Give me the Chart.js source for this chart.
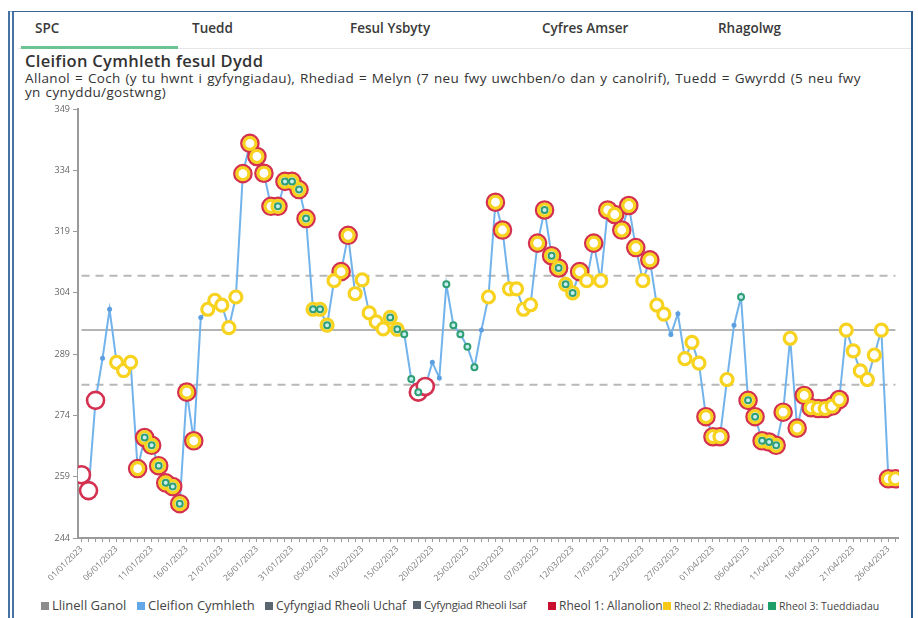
<!DOCTYPE html>
<html lang="cy">
<head>
<meta charset="utf-8">
<title>Cleifion Cymhleth fesul Dydd</title>
<script src="https://cdn.jsdelivr.net/npm/chart.js@4.4.1/dist/chart.umd.min.js"></script>
<style>
  html, body { margin: 0; padding: 0; background: #fff; }
  body { width: 918px; height: 618px; position: relative; overflow: hidden; font-family: "Open Sans", "Noto Sans", sans-serif; color: #333; }
  #ffram { position: absolute; left: 8px; top: 11px; width: 897px; height: 660px;
    border-top: 1.5px solid #3a6694; border-right: 2px solid #2f5b8c; border-left: 6px double #4673a3; }
  .tab { position: absolute; top: 19px; font-size: 13.5px; font-weight: 600; color: #3a3a3a; }
  #llinell-tab { position: absolute; left: 18px; top: 48px; width: 893px; height: 1px; background: #e6e6e6; }
  #tab-gwyrdd { position: absolute; left: 21px; top: 46px; width: 157px; height: 3px; background: #6cc394; }
  #teitl { position: absolute; left: 25px; top: 49px; font-size: 16.5px; letter-spacing: 0.3px; font-weight: 600; color: #333; }
  #isdeitl { position: absolute; left: 25px; top: 71px; font-size: 13.5px; letter-spacing: 0.35px; word-spacing: 1px; line-height: 14px; color: #333; white-space: nowrap; }
  #lapio { position: absolute; left: 20px; top: 102px; width: 890px; height: 493px; overflow: hidden; }
  #cynhwysydd { position: absolute; left: 0; top: -4px; width: 890px; height: 497px; }
  .allwedd { position: absolute; top: 596px; white-space: nowrap; color: #444; }
  .allwedd i { display: inline-block; width: 8px; height: 8px; margin-right: 3px; vertical-align: 0px; }
</style>
</head>
<body>
<div id="ffram"></div>
<div class="tab" style="left:35px">SPC</div>
<div class="tab" style="left:192px">Tuedd</div>
<div class="tab" style="left:350px">Fesul Ysbyty</div>
<div class="tab" style="left:542px">Cyfres Amser</div>
<div class="tab" style="left:718px">Rhagolwg</div>
<div id="llinell-tab"></div>
<div id="tab-gwyrdd"></div>
<div id="teitl">Cleifion Cymhleth fesul Dydd</div>
<div id="isdeitl">Allanol = Coch (y tu hwnt i gyfyngiadau), Rhediad = Melyn (7 neu fwy uwchben/o dan y canolrif), Tuedd = Gwyrdd (5 neu fwy<br>yn cynyddu/gostwng)</div>

<div id="lapio"><div id="cynhwysydd"><canvas id="spcChart"></canvas></div></div>

<div class="allwedd" style="left:41px;font-size:13px"><i style="background:#8c8c8c"></i>Llinell Ganol</div>
<div class="allwedd" style="left:137px;font-size:13px"><i style="background:#62a8e8"></i>Cleifion Cymhleth</div>
<div class="allwedd" style="left:265px;font-size:12.2px;top:597px"><i style="background:#5b6670"></i>Cyfyngiad Rheoli Uchaf</div>
<div class="allwedd" style="left:413px;font-size:11.3px;letter-spacing:-0.3px;top:597px"><i style="background:#5b6670"></i>Cyfyngiad Rheoli Isaf</div>
<div class="allwedd" style="left:548px;font-size:12px;top:597px"><i style="background:#c8102e"></i>Rheol 1: Allanolion</div>
<div class="allwedd" style="left:663px;font-size:10px;top:599px"><i style="background:#f6c915"></i>Rheol 2: Rhediadau</div>
<div class="allwedd" style="left:768px;font-size:10.5px;top:599px"><i style="background:#1f9e6a"></i>Rheol 3: Tueddiadau</div>

<script>
'use strict'

// data - cleifion cymhleth bob dydd, 01/01/2023 i 27/04/2023
var cleifion = [
  259.5, 255.6, 277.7, 288, 300, 287, 285, 287, 261, 268.6,
  266.7, 261.7, 257.5, 256.6, 252.4, 279.7, 267.8, 298, 300, 302.2,
  301, 295.5, 303, 333.2, 340.6, 337.4, 333.3, 325.2, 325.2, 331.3,
  331.3, 329.3, 322.2, 300, 300, 296.1, 307, 309.2, 318.1, 303.8,
  307.2, 299.1, 296.9, 295.2, 298, 295.1, 293.9, 282.9, 279.7, 281.1,
  287, 283.2, 306.1, 296.1, 293.9, 290.8, 285.8, 294.9, 303, 326.2,
  319.4, 305, 305, 300, 301.1, 316.2, 324.3, 313.1, 310.1, 306.1,
  304, 309.2, 307, 316.2, 307, 324.3, 323.2, 319.4, 325.4, 315.1,
  307, 312.1, 301, 298.8, 293.8, 298.9, 287.9, 291.9, 286.8, 273.7,
  268.8, 268.8, 282.8, 296.1, 303, 277.7, 273.7, 267.8, 267.5, 266.7,
  274.8, 292.9, 270.9, 278.9, 275.9, 275.7, 275.7, 276.3, 277.9, 294.9,
  289.8, 284.9, 282.8, 288.8, 294.9, 258.5, 258.5
];

var canolrif = 294.9;
var terfynUchaf = 308.2;
var terfynIsaf = 281.5;

// pa ddyddiau sy'n torri pob rheol (mynegai'r dydd)
var rheol1 = [0, 1, 2, 8, 9, 10, 11, 12, 13, 14, 15, 16, 23, 24, 25, 26, 27, 28, 29, 30, 31, 32,
  37, 38, 48, 49, 59, 60, 65, 66, 67, 68, 71, 73, 75, 76, 77, 78, 79, 81, 89, 90, 91,
  95, 96, 97, 98, 99, 100, 102, 103, 104, 105, 106, 107, 108, 115, 116];
var rheol2 = [5, 6, 7, 8, 9, 10, 11, 12, 13, 14, 15, 16,
  18, 19, 20, 21, 22, 23, 24, 25, 26, 27, 28, 29, 30, 31, 32, 33, 34, 35, 36, 37, 38, 39, 40, 41, 42, 43, 44, 45,
  58, 59, 60, 61, 62, 63, 64, 65, 66, 67, 68, 69, 70, 71, 72, 73, 74, 75, 76, 77, 78, 79, 80, 81, 82, 83,
  86, 87, 88, 89, 90, 91, 92,
  95, 96, 97, 98, 99, 100, 101, 102, 103, 104, 105, 106, 107, 108, 109, 110, 111, 112, 113, 114, 115, 116];
var rheol3 = [9, 10, 11, 12, 13, 14, 28, 29, 30, 31, 32, 33, 34, 35, 44, 45, 46, 47, 48,
  52, 53, 54, 55, 56, 66, 67, 68, 69, 70, 94, 95, 96, 97, 98, 99];

var yAxis = { min: 244, max: 349, step: 15 };

// dyddiadau dd/mm/yyyy
var dyddiadau = [];
for (var d = 0; d < cleifion.length; d++) {
  var dt = new Date(Date.UTC(2023, 0, 1 + d));
  var dd = String(dt.getUTCDate()).padStart(2, '0');
  var mm = String(dt.getUTCMonth() + 1).padStart(2, '0');
  dyddiadau.push(dd + '/' + mm + '/' + dt.getUTCFullYear());
}

function llinellSyth(gwerth) {
  return cleifion.map(function() { return gwerth; });
}

function pwyntiauRheol(rhestr) {
  return cleifion.map(function(v, i) { return rhestr.indexOf(i) > -1 ? v : null; });
}

var ctx = document.getElementById('spcChart').getContext('2d');
var chart = new Chart(ctx, {
  type: 'line',
  data: {
    labels: dyddiadau,
    datasets: [{
      label: 'Llinell Ganol',
      data: llinellSyth(canolrif),
      borderColor: '#b4b4b4',
      borderWidth: 2,
      pointRadius: 0,
      order: 10
    },
    {
      label: 'Cyfyngiad Rheoli Uchaf',
      data: llinellSyth(terfynUchaf),
      borderColor: '#b8b8b8',
      borderWidth: 2,
      borderDash: [8, 6],
      pointRadius: 0,
      order: 10
    },
    {
      label: 'Cyfyngiad Rheoli Isaf',
      data: llinellSyth(terfynIsaf),
      borderColor: '#b8b8b8',
      borderWidth: 2,
      borderDash: [8, 6],
      pointRadius: 0,
      order: 10
    },
    {
      label: 'Cleifion Cymhleth',
      data: cleifion,
      borderColor: '#72b3ec',
      borderWidth: 2,
      pointRadius: 2.5,
      pointBorderWidth: 0,
      pointBackgroundColor: '#5b9fe0',
      tension: 0,
      clip: 0,
      order: 5
    },
    {
      label: 'Rheol 1: Allanolion',
      data: pwyntiauRheol(rheol1),
      showLine: false,
      pointRadius: 8.5,
      pointBorderWidth: 2.6,
      pointBorderColor: '#d4304f',
      pointBackgroundColor: '#ffffff',
      clip: 0,
      order: 3
    },
    {
      label: 'Rheol 2: Rhediadau',
      data: pwyntiauRheol(rheol2),
      showLine: false,
      pointRadius: 6,
      pointBorderWidth: 3.2,
      pointBorderColor: '#f7d21e',
      pointBackgroundColor: '#ffffff',
      clip: 0,
      order: 2
    },
    {
      label: 'Rheol 3: Tueddiadau',
      data: pwyntiauRheol(rheol3),
      showLine: false,
      pointRadius: 3,
      pointBorderWidth: 2,
      pointBorderColor: '#2f9f73',
      pointBackgroundColor: '#c6eef2',
      clip: 0,
      order: 1
    }]
  },
  options: {
    responsive: true,
    maintainAspectRatio: false,
    animation: false,
    layout: { padding: { top: 7, right: 8, left: 0, bottom: 0 } },
    plugins: {
      legend: { display: false },
      tooltip: { enabled: false }
    },
    scales: {
      x: {
        offset: true,
        grid: { drawOnChartArea: false, tickLength: 4, color: '#9a9a9a' },
        border: { color: '#9a9a9a', width: 2 },
        ticks: {
          autoSkip: false,
          maxRotation: 45,
          minRotation: 45,
          padding: 2,
          color: '#777',
          font: { size: 8.5, family: 'Open Sans' },
          callback: function(v, i) { return i % 5 === 0 ? dyddiadau[i] : ''; }
        },
        afterFit: function(s) { s.height = 57; }
      },
      y: {
        min: yAxis.min,
        max: yAxis.max,
        grid: { drawOnChartArea: false, tickLength: 5, color: '#9a9a9a' },
        border: { color: '#9a9a9a', width: 2 },
        ticks: { stepSize: yAxis.step, color: '#666', font: { size: 9, family: 'Open Sans' } },
        afterFit: function(s) { s.width = 58; }
      }
    }
  }
});
</script>
</body>
</html>
